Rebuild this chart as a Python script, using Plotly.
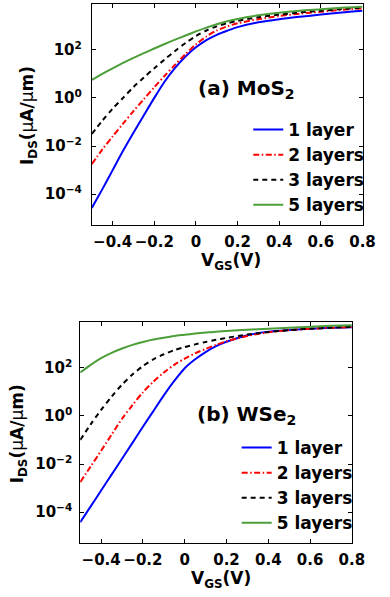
import plotly.graph_objects as go

# Gate voltage (V)
vgs = [-0.5, -0.45, -0.4, -0.35, -0.3, -0.25, -0.2, -0.15, -0.1, -0.05, 0.0,
       0.05, 0.1, 0.15, 0.2, 0.3, 0.4, 0.5, 0.6, 0.7, 0.8]

# log10 of I_DS (uA/um)
mos2_1l = [-4.57, -3.8, -3.0, -2.2, -1.45, -0.72, 0.0, 0.68, 1.25, 1.72, 2.1,
           2.4, 2.62, 2.79, 2.94, 3.14, 3.27, 3.37, 3.46, 3.55, 3.62]
mos2_2l = [-2.75, -2.15, -1.6, -1.07, -0.55, -0.05, 0.44, 0.92, 1.38, 1.82, 2.22,
           2.55, 2.8, 2.97, 3.1, 3.27, 3.4, 3.5, 3.58, 3.66, 3.72]
mos2_3l = [-1.5, -0.95, -0.45, 0.0, 0.45, 0.85, 1.23, 1.6, 1.95, 2.28, 2.57,
           2.8, 2.97, 3.1, 3.2, 3.35, 3.46, 3.55, 3.62, 3.69, 3.75]
mos2_5l = [0.75, 1.0, 1.23, 1.45, 1.66, 1.86, 2.05, 2.24, 2.42, 2.59, 2.76,
           2.92, 3.06, 3.18, 3.28, 3.43, 3.54, 3.62, 3.68, 3.74, 3.79]

wse2_1l = [-4.42, -3.76, -3.1, -2.44, -1.78, -1.12, -0.45, 0.2, 0.85, 1.45, 1.98,
           2.35, 2.65, 2.9, 3.08, 3.35, 3.5, 3.57, 3.62, 3.66, 3.68]
wse2_2l = [-2.75, -2.1, -1.45, -0.78, -0.12, 0.45, 0.98, 1.42, 1.8, 2.12, 2.38,
           2.6, 2.78, 2.95, 3.1, 3.32, 3.47, 3.56, 3.62, 3.66, 3.69]
wse2_3l = [-1.0, -0.35, 0.25, 0.8, 1.3, 1.72, 2.07, 2.35, 2.56, 2.73, 2.86,
           2.97, 3.07, 3.16, 3.24, 3.38, 3.48, 3.56, 3.62, 3.66, 3.70]
wse2_5l = [1.8, 2.12, 2.4, 2.62, 2.8, 2.95, 3.07, 3.17, 3.25, 3.32, 3.37,
           3.42, 3.46, 3.5, 3.53, 3.58, 3.62, 3.66, 3.7, 3.74, 3.77]

series_names = ["1 layer", "2 layers", "3 layers", "5 layers"]
x_ticks = [-0.4, -0.2, 0, 0.2, 0.4, 0.6, 0.8]
x_ticktext = ["\u22120.4", "\u22120.2", "0", "0.2", "0.4", "0.6", "0.8"]
y_ticks = [1e-4, 1e-2, 1e0, 1e2]
y_ticktext = ["10<sup>\u22124</sup>", "10<sup>\u22122</sup>", "10<sup>0</sup>", "10<sup>2</sup>"]

colors = ["#0000FF", "#FF0000", "#000000", "#4C9E38"]
dashes = ["solid", "6px,2.5px,1.5px,2.5px", "5px,4px", "solid"]

W, H = 390, 597
FONT = "DejaVu Sans"

fig = go.Figure()

panels = [
    ([mos2_1l, mos2_2l, mos2_3l, mos2_5l], "x", "y", "legend"),
    ([wse2_1l, wse2_2l, wse2_3l, wse2_5l], "x2", "y2", "legend2"),
]
for data, xa, ya, lg in panels:
    for name, vals, c, d in zip(series_names, data, colors, dashes):
        fig.add_trace(go.Scatter(
            x=vgs, y=[10 ** v for v in vals], mode="lines", name=name,
            line=dict(color=c, width=2, dash=d, shape="spline", smoothing=0.8),
            xaxis=xa, yaxis=ya, legend=lg, showlegend=True))

def px_x(p):
    return p / W

def px_y(p):
    return 1 - p / H

axis_common = dict(
    showline=True, linecolor="black", linewidth=1, mirror="ticks",
    ticks="inside", ticklen=4, tickwidth=1, tickcolor="black",
    showgrid=False, zeroline=False,
    tickfont=dict(family=FONT, size=15, color="black", weight="bold"),
)

fig.update_layout(
    width=W, height=H, margin=dict(l=0, r=0, t=0, b=0),
    paper_bgcolor="white", plot_bgcolor="white",
    xaxis=dict(domain=[px_x(95), px_x(375)], range=[-0.5, 0.8], anchor="y",
               tickvals=x_ticks, ticktext=x_ticktext, ticklabelstandoff=3, **axis_common),
    yaxis=dict(domain=[px_y(225), px_y(4)], type="log", range=[-5.28, 3.9], anchor="x",
               tickvals=y_ticks, ticktext=y_ticktext, ticklabelstandoff=6, **axis_common),
    xaxis2=dict(domain=[px_x(83), px_x(364)], range=[-0.5, 0.8], anchor="y2",
                tickvals=x_ticks, ticktext=x_ticktext, ticklabelstandoff=3, **axis_common),
    yaxis2=dict(domain=[px_y(543), px_y(322)], type="log", range=[-5.28, 3.9], anchor="x2",
                tickvals=y_ticks, ticktext=y_ticktext, ticklabelstandoff=4, **axis_common),
    legend=dict(x=px_x(382), y=px_y(223), xanchor="right", yanchor="bottom",
                bgcolor="rgba(0,0,0,0)", borderwidth=0, tracegroupgap=0,
                font=dict(family=FONT, size=17, color="black", weight="bold")),
    legend2=dict(x=px_x(370), y=px_y(541), xanchor="right", yanchor="bottom",
                 bgcolor="rgba(0,0,0,0)", borderwidth=0, tracegroupgap=0,
                 font=dict(family=FONT, size=17, color="black", weight="bold")),
)

ytitle = "<b>I</b><sub><b>DS</b></sub><b>(</b>\u03bc<b>A/</b>\u03bc<b>m)</b>"
xtitle = "<b>V</b><sub><b>GS</b></sub><b>(V)</b>"
tfont = dict(family=FONT, size=17, color="black")

annotations = [
    dict(text=ytitle, x=px_x(29), y=px_y(116), textangle=-90, font=tfont),
    dict(text=ytitle, x=px_x(19), y=px_y(434), textangle=-90, font=tfont),
    dict(text=xtitle, x=px_x(239), y=px_y(261), font=tfont),
    dict(text=xtitle, x=px_x(229), y=px_y(579), font=tfont),
    dict(text="<b>(a) MoS</b><sub><b>2</b></sub>", x=px_x(255), y=px_y(89),
         font=dict(family=FONT, size=20, color="black")),
    dict(text="<b>(b) WSe</b><sub><b>2</b></sub>", x=px_x(255), y=px_y(415),
         font=dict(family=FONT, size=20, color="black")),
]
for a in annotations:
    a.update(xref="paper", yref="paper", showarrow=False, xanchor="center", yanchor="middle")
fig.update_layout(annotations=annotations)

fig.write_html("out.html")
